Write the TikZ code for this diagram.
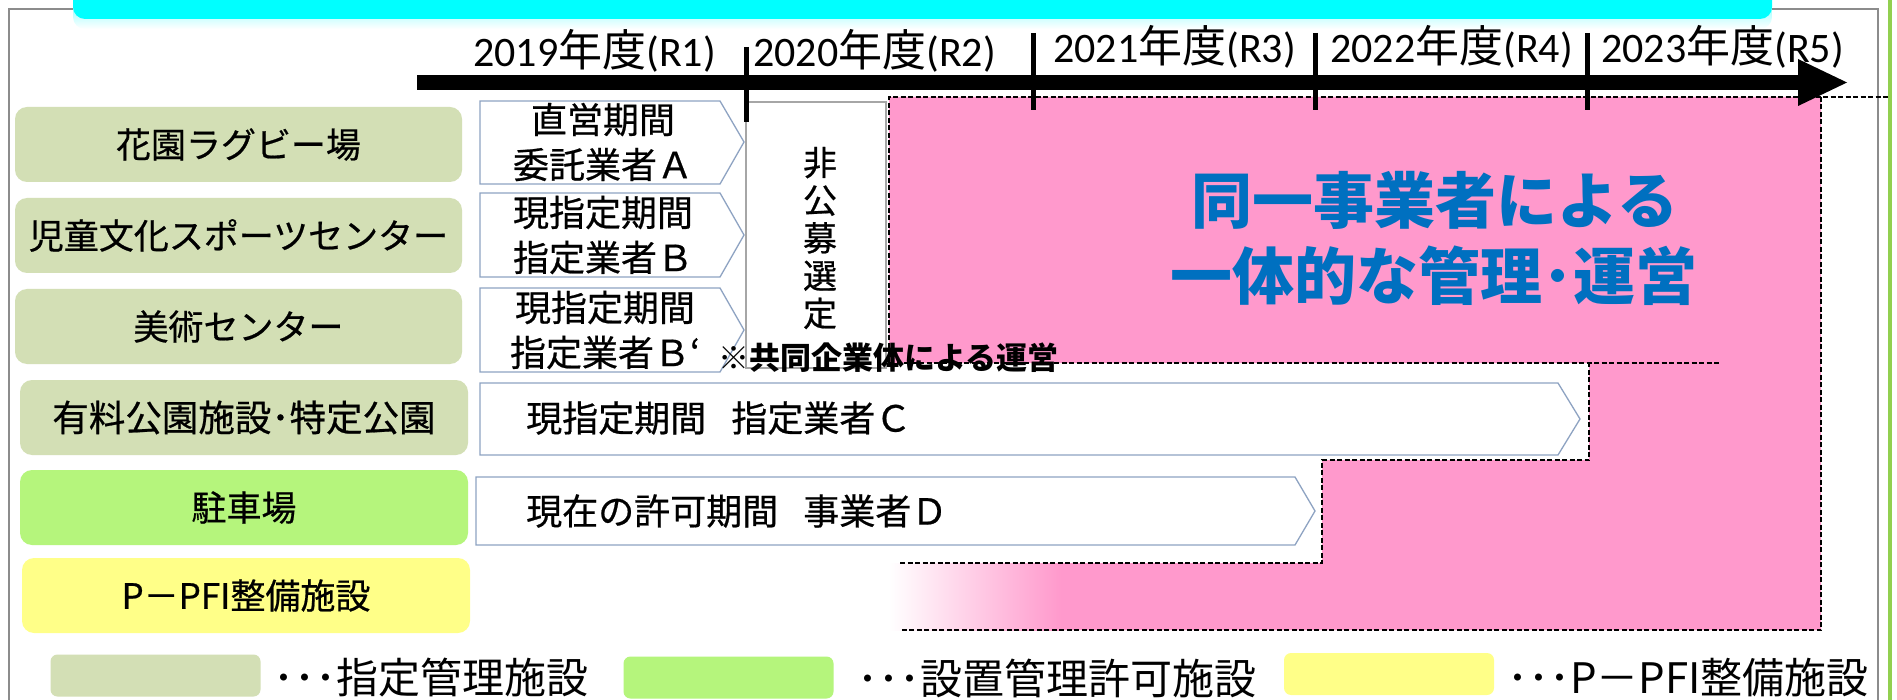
\documentclass[tikz,border=0pt]{standalone}
\usepackage{fontspec}
\newfontfamily\jp{Noto Sans CJK JP}
\newfontfamily\jpm[FakeBold=0.6]{Noto Sans CJK JP}
\newfontfamily\yrfont{Carlito}
\definecolor{cOlive}{HTML}{D3DFB5}
\definecolor{cLime}{HTML}{B5F57C}
\definecolor{cYel}{HTML}{FFFF88}
\definecolor{cPink}{HTML}{FF99CC}
\definecolor{cBlue}{HTML}{0070C0}
\definecolor{cEdge}{HTML}{8EA3C2}
\definecolor{cFrame}{HTML}{8C8C8C}
\definecolor{cGreen}{HTML}{92D050}
\definecolor{cCyan}{HTML}{00FFFF}
\newcommand\yrlab[2]{{\fontsize{42}{42}\selectfont\yrfont #1}{\fontsize{44}{44}\selectfont\jp 年度}{\fontsize{42}{42}\selectfont\yrfont (#2)}}
\begin{document}
\begin{tikzpicture}[x=1pt,y=-1pt,
 lab/.style={rounded corners=12pt, inner sep=0pt, minimum height=75pt, font=\jpm\fontsize{35}{40}\selectfont},
 abox/.style={draw=cEdge, line width=1.3pt, fill=white, line join=miter},
 atxt/.style={inner sep=0pt, align=center, font=\jpm\fontsize{36}{45}\selectfont},
 dsh/.style={draw=black, line width=1.8pt, dash pattern=on 5pt off 2.5pt},
 tickln/.style={line width=5pt},
 yr/.style={anchor=base west, inner sep=0pt},
 leg/.style={rounded corners=7pt, inner sep=0pt, minimum width=210pt, minimum height=42pt},
 legt/.style={anchor=west, inner sep=0pt, font=\jp\fontsize{42}{42}\selectfont},
]
% canvas
\fill[white] (0,0) rectangle (1897,700);
\useasboundingbox (0,0) rectangle (1897,700);
% frame and right green line
\draw[cFrame, line width=1.5pt] (9,700) -- (9,9) -- (1878,9) -- (1878,700);
\draw[cGreen, line width=4pt] (1890,0) -- (1890,700);
% banner
\shade[top color=cCyan, bottom color=white, rounded corners=12pt] (73,-30) rectangle (1772,29);
\fill[cCyan, rounded corners=12pt] (73,-30) rectangle (1772,19);
% pink region
\fill[cPink] (889,97) -- (1821,97) -- (1821,630) -- (1060,630) -- (1060,563) -- (1322,563)
  -- (1322,460) -- (1589,460) -- (1589,363) -- (889,363) -- cycle;
\shade[left color=white, right color=cPink] (889,563) rectangle (1061,630);
% non-public selection box
\draw[draw=gray!70, line width=1.2pt, fill=white] (746,102) rectangle (886,368);
\node[inner sep=0pt, align=center, font=\jpm\fontsize{34}{37.75}\selectfont] (np) at (820,238) {非\\公\\募\\選\\定};
% dashed outlines
\draw[dsh] (889,363) -- (889,97) -- (1890,97);
\draw[dsh] (1821,97) -- (1821,630) -- (900,630);
\draw[dsh] (900,563) -- (1322,563) -- (1322,460) -- (1589,460) -- (1589,363);
\draw[dsh] (889,363) -- (1720,363);
% arrow boxes
\draw[abox] (480,101) -- (720,101) -- (744,142) -- (720,184) -- (480,184) -- cycle;
\node[atxt] (a1) at (603,142) {直営期間\\委託業者Ａ};
\draw[abox] (480,193) -- (720,193) -- (744,235) -- (720,277) -- (480,277) -- cycle;
\node[atxt] (a2) at (603,235) {現指定期間\\指定業者Ｂ};
\draw[abox] (480,288) -- (720,288) -- (744,330) -- (720,372) -- (480,372) -- cycle;
\node[atxt] (a3) at (605,330) {現指定期間\\指定業者Ｂ‘};
\draw[abox] (480,383) -- (1558,383) -- (1580,419) -- (1558,455) -- (480,455) -- cycle;
\node[atxt, anchor=west] (a4) at (526,418) {現指定期間\hspace{0.7em}指定業者Ｃ};
\draw[abox] (476,477) -- (1295,477) -- (1315,511) -- (1295,545) -- (476,545) -- cycle;
\node[atxt, anchor=west] (a5) at (526,511) {現在の許可期間\hspace{0.7em}事業者Ｄ};
% left labels
\node[lab, fill=cOlive, minimum width=447pt] (l1) at (238.5,144.5) {花園ラグビー場};
\node[lab, fill=cOlive, minimum width=447pt] (l2) at (238.5,235.5) {児童文化スポーツセンター};
\node[lab, fill=cOlive, minimum width=447pt] (l3) at (238.5,326.5) {美術センター};
\node[lab, fill=cOlive, minimum width=448pt, font=\jpm\fontsize{36.5}{40}\selectfont] (l4) at (244,417.5) {有料公園施設･特定公園};
\node[lab, fill=cLime, minimum width=448pt] (l5) at (244,507.5) {駐車場};
\node[lab, fill=cYel, minimum width=448pt] (l6) at (246,595.5) {P－PFI整備施設};
% timeline
\fill[black] (417,75) rectangle (1800,90);
\fill[black] (1798,59) -- (1847,82.5) -- (1798,106) -- cycle;
\draw[tickln] (746,47) -- (746,122);
\draw[tickln] (1033,33) -- (1033,110);
\draw[tickln] (1315,33) -- (1315,110);
\draw[tickln] (1587,33) -- (1587,110);
\node[yr] (y1) at (473,67) {\yrlab{2019}{R1}};
\node[yr] (y2) at (753,67) {\yrlab{2020}{R2}};
\node[yr] (y3) at (1053,63) {\yrlab{2021}{R3}};
\node[yr] (y4) at (1330,63) {\yrlab{2022}{R4}};
\node[yr] (y5) at (1601,63) {\yrlab{2023}{R5}};
% note and big text
\node[anchor=west, inner sep=0pt, font=\jp\bfseries\fontsize{31}{31}\selectfont] (note) at (718,358) {※共同企業体による運営};
\node[inner sep=0pt, text=cBlue, font=\jp\bfseries\fontsize{61}{61}\selectfont] (b1) at (1435,200) {同一事業者による};
\node[inner sep=0pt, text=cBlue, font=\jp\bfseries\fontsize{62}{62}\selectfont] (b2) at (1434,276) {一体的な管理･運営};
% legend
\node[leg, fill=cOlive] (k1) at (155.5,675.5) {};
\node[legt] (t1) at (273,678) {･･･指定管理施設};
\node[leg, fill=cLime] (k2) at (728.5,677.5) {};
\node[legt] (t2) at (857,678) {･･･設置管理許可施設};
\node[leg, fill=cYel] (k3) at (1389,674) {};
\node[legt] (t3) at (1507,678) {･･･P－PFI整備施設};
\end{tikzpicture}
\end{document}
